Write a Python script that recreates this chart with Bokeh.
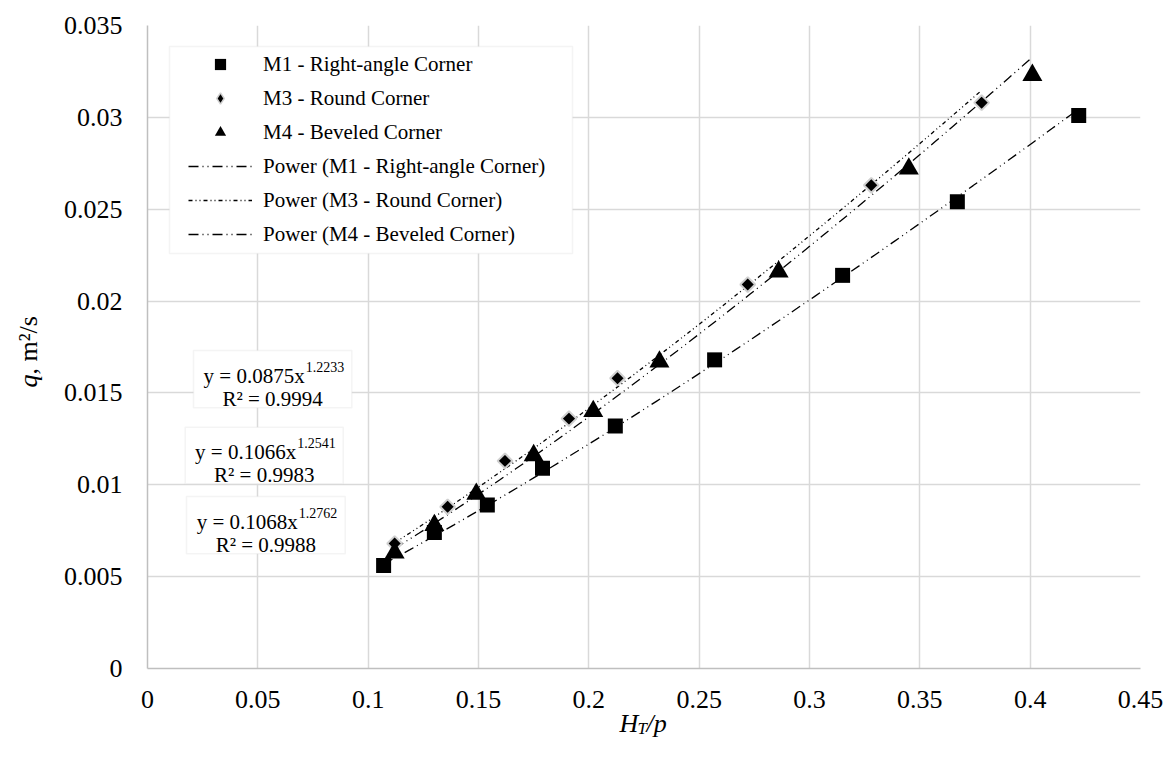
import numpy as np
from bokeh.plotting import figure
from bokeh.layouts import column, row
from bokeh.core.properties import value
from bokeh.models import (Range1d, FixedTicker, NumeralTickFormatter, Legend, LegendItem,
                          Label, BoxAnnotation)
from bokeh.embed import file_html
from bokeh.resources import INLINE

# ---------------- data ----------------
m1_x = [0.107, 0.130, 0.154, 0.179, 0.212, 0.257, 0.315, 0.367, 0.422]
m1_y = [0.0056, 0.0074, 0.0089, 0.0109, 0.0132, 0.0168, 0.0214, 0.0254, 0.0301]
m3_x = [0.112, 0.136, 0.162, 0.191, 0.213, 0.272, 0.328, 0.378]
m3_y = [0.0068, 0.0088, 0.0113, 0.0136, 0.0158, 0.0209, 0.0263, 0.0308]
m4_x = [0.112, 0.130, 0.149, 0.175, 0.202, 0.232, 0.286, 0.345, 0.401]
m4_y = [0.0063, 0.0078, 0.0095, 0.0116, 0.0140, 0.0167, 0.0216, 0.0272, 0.0323]

series_names = ["M1 - Right-angle Corner", "M3 - Round Corner", "M4 - Beveled Corner"]
fit_a = [0.0875, 0.1066, 0.1068]
fit_b = [1.2233, 1.2541, 1.2762]
fit_a_text = ["0.0875", "0.1066", "0.1068"]
fit_b_text = ["1.2233", "1.2541", "1.2762"]
fit_r2_text = ["0.9994", "0.9983", "0.9988"]

x_ticks = [0, 0.05, 0.1, 0.15, 0.2, 0.25, 0.3, 0.35, 0.4, 0.45]
y_ticks = [0, 0.005, 0.01, 0.015, 0.02, 0.025, 0.03, 0.035]

FONT = "Liberation Serif"
GRID = "#d9d9d9"

# page geometry
W, H = 1173, 764
LW = 60            # left strip holding the y title
MH = 720           # height of the top row
OVER = 25          # the x-title strip overlaps the top row by this much (transparent)
FL, FT, FR, FB = 145, 25, 1140, 668   # frame in page pixels

# ---------------- main figure ----------------
p = figure(width=W - LW, height=MH, output_backend="svg", toolbar_location=None,
           x_range=Range1d(0, 0.45), y_range=Range1d(0, 0.035),
           min_border_left=FL - LW, min_border_right=W - FR,
           min_border_top=FT, min_border_bottom=MH - FB)
p.outline_line_color = None
p.background_fill_color = "white"
p.border_fill_color = "white"

p.xaxis.ticker = FixedTicker(ticks=x_ticks)
p.yaxis.ticker = FixedTicker(ticks=y_ticks)
p.xaxis.formatter = NumeralTickFormatter(format="0.[00]")
p.yaxis.formatter = NumeralTickFormatter(format="0.[000]")
for ax in (p.xaxis, p.yaxis):
    ax.axis_line_color = "#bfbfbf"
    ax.axis_line_width = 1.5
    ax.major_tick_line_color = None
    ax.minor_tick_line_color = None
    ax.major_tick_out = 0
    ax.major_tick_in = 0
    ax.minor_tick_out = 0
    ax.minor_tick_in = 0
    ax.major_label_text_font = FONT
    ax.major_label_text_font_size = "26px"
    ax.major_label_text_color = "black"
p.xaxis.major_label_standoff = 22
p.yaxis.major_label_standoff = 25

p.grid.grid_line_color = GRID
p.grid.grid_line_width = 1.5

# ---------------- trend lines ----------------
dashes = ["10 4 1 4 1 4", "4 3 1 3 1 3", "10 4 1 4 1 4"]
xs_all = [m1_x, m3_x, m4_x]
trend_renderers = []
for i in range(3):
    xx = np.linspace(min(xs_all[i]), max(xs_all[i]), 80)
    yy = fit_a[i] * xx ** fit_b[i]
    r = p.line(xx, yy, line_color="black", line_width=1.3, line_dash=dashes[i])
    trend_renderers.append(r)

# ---------------- markers ----------------
r1 = p.scatter(m1_x, m1_y, marker="square", size=15, fill_color="black", line_color="black", line_width=0)
# diamond stand-in used for the legend symbol (hidden underneath the first M3 marker)
r3_leg = p.scatter(m3_x[:1], m3_y[:1], marker="diamond", size=13, fill_color="black",
                   line_color="#d0d0d0", line_width=1.5)
r3 = p.scatter(m3_x, m3_y, marker="square", angle=np.pi / 4, size=10.5, fill_color="black",
               line_color="#d0d0d0", line_width=2)
r4 = p.scatter(m4_x, m4_y, marker="triangle", size=20, fill_color="black", line_color="black", line_width=0)

# ---------------- legend ----------------
def sx(px):
    return px - FL

def sy(py):
    return FB - py

p.add_layout(BoxAnnotation(left=sx(167), right=sx(570), top=sy(46), bottom=sy(253),
                           left_units="screen", right_units="screen",
                           top_units="screen", bottom_units="screen",
                           fill_color="white", fill_alpha=1.0,
                           line_color=GRID, line_width=1.5))

items = [LegendItem(label=series_names[0], renderers=[r1]),
         LegendItem(label=series_names[1], renderers=[r3_leg]),
         LegendItem(label=series_names[2], renderers=[r4])]
for i in range(3):
    items.append(LegendItem(label="Power (" + series_names[i] + ")", renderers=[trend_renderers[i]]))

legend = Legend(items=items, location=(sx(186), sy(248.3)), margin=0, padding=0,
                spacing=6, glyph_width=64, glyph_height=28, label_height=28,
                label_standoff=11, label_text_font=FONT, label_text_font_size="21px",
                label_text_color="black", border_line_color=None,
                background_fill_alpha=0.0)
p.add_layout(legend, "center")

# ---------------- equation boxes ----------------
box_left = [191, 182.7, 184]
box_right = [349.3, 340.7, 342.7]
box_top = [350, 426.7, 496]
box_bottom = [407.3, 483.3, 553.3]
for i in range(3):
    p.add_layout(BoxAnnotation(left=sx(box_left[i]), right=sx(box_right[i]),
                               top=sy(box_top[i]), bottom=sy(box_bottom[i]),
                               left_units="screen", right_units="screen",
                               top_units="screen", bottom_units="screen",
                               fill_color="white", fill_alpha=1.0,
                               line_color=GRID, line_width=1.5))
    cx = (box_left[i] + box_right[i]) / 2
    p.add_layout(Label(x=sx(cx + 32), y=sy(box_top[i] + 25), x_units="screen", y_units="screen",
                       text="y = " + fit_a_text[i] + "x", text_align="right",
                       text_baseline="alphabetic", text_font=FONT, text_font_size="21px",
                       text_color="black"))
    p.add_layout(Label(x=sx(cx + 33), y=sy(box_top[i] + 16), x_units="screen", y_units="screen",
                       text=fit_b_text[i], text_align="left",
                       text_baseline="alphabetic", text_font=FONT, text_font_size="14px",
                       text_color="black"))
    p.add_layout(Label(x=sx(cx), y=sy(box_top[i] + 48), x_units="screen", y_units="screen",
                       text="R² = " + fit_r2_text[i], text_align="center",
                       text_baseline="alphabetic", text_font=FONT, text_font_size="21px",
                       text_color="black"))

# ---------------- y title strip ----------------
left = figure(width=LW, height=MH, output_backend="svg", toolbar_location=None,
              x_range=Range1d(0, LW), y_range=Range1d(0, MH), min_border=0,
              x_axis_type=None, y_axis_type=None)
left.outline_line_color = None
left.background_fill_color = "white"
left.border_fill_color = "white"
left.text(x=[28], y=[MH - 398], text=["q"], angle=np.pi / 2, text_align="center",
          text_baseline="middle", text_font=value(FONT), text_font_style="italic",
          text_font_size="26px", text_color="black")
left.text(x=[28], y=[MH - 358], text=[", m²/s"], angle=np.pi / 2, text_align="center",
          text_baseline="middle", text_font=value(FONT), text_font_style="normal",
          text_font_size="26px", text_color="black")

# ---------------- x title strip (transparent, pulled up over the tick-label area) ----------------
BH = H - MH + OVER
bottom = figure(width=W, height=BH, output_backend="svg", toolbar_location=None,
                x_range=Range1d(0, W), y_range=Range1d(0, BH), min_border=0,
                x_axis_type=None, y_axis_type=None, margin=(-OVER, 0, 0, 0))
bottom.outline_line_color = None
bottom.background_fill_alpha = 0
bottom.border_fill_alpha = 0
base = H - 723
bottom.text(x=[619], y=[base], text=["H"], text_align="left", text_baseline="alphabetic",
            text_font=value(FONT), text_font_style="italic", text_font_size="26px",
            text_color="black")
bottom.text(x=[637], y=[base - 5], text=["T"], text_align="left", text_baseline="alphabetic",
            text_font=value(FONT), text_font_style="italic", text_font_size="17px",
            text_color="black")
bottom.text(x=[646], y=[base], text=["/p"], text_align="left", text_baseline="alphabetic",
            text_font=value(FONT), text_font_style="italic", text_font_size="26px",
            text_color="black")

layout = column(row(left, p), bottom)
open("out.html", "w").write(file_html(layout, INLINE))
